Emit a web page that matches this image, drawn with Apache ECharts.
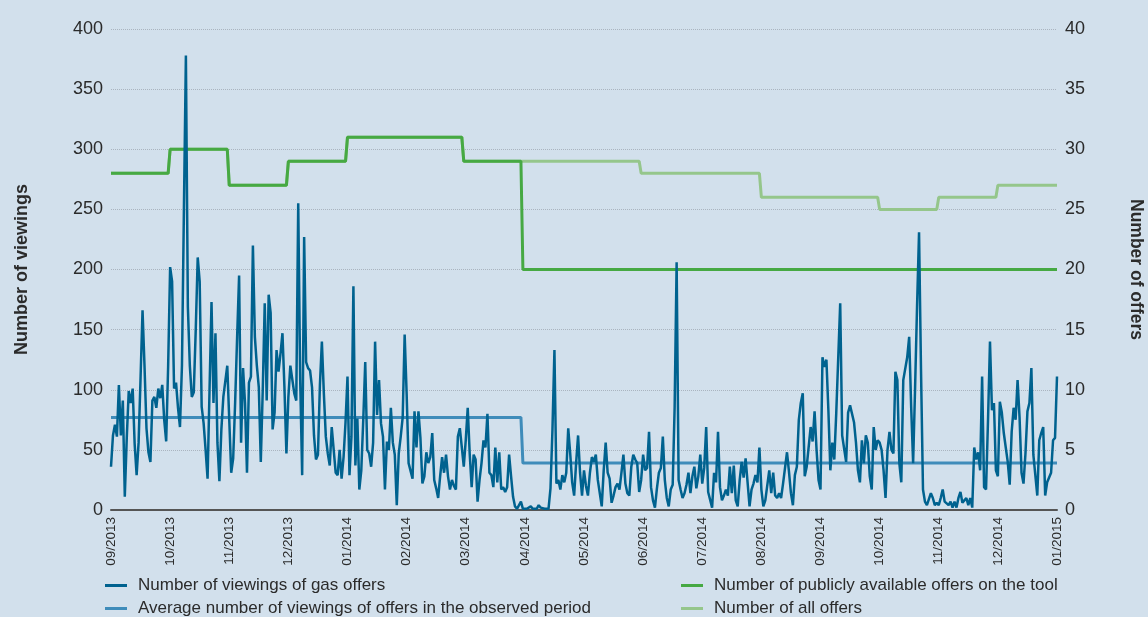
<!DOCTYPE html>
<html>
<head>
<meta charset="utf-8">
<title>Viewings of gas offers</title>
<script src="https://cdn.jsdelivr.net/npm/echarts@6/dist/echarts.min.js"></script>
<style>
  html, body { margin: 0; padding: 0; background: #d2e0ec; }
  #main { width: 1148px; height: 617px; }
</style>
</head>
<body>
<div id="main"></div>
<script>
// month tick labels, one every 30 days on the category axis
var monthLabels = ["09/2013", "10/2013", "11/2013", "12/2013", "01/2014", "02/2014", "03/2014", "04/2014",
  "05/2014", "06/2014", "07/2014", "08/2014", "09/2014", "10/2014", "11/2014", "12/2014", "01/2015"];
var daysPerLabel = 30;

// daily viewings of gas offers
var viewings = [
  36, 62, 71, 61, 104, 62, 91, 11, 60, 99,
  89, 101, 55, 29, 56, 110, 166, 120, 68, 48,
  40, 91, 94, 85, 101, 93, 104, 75, 57, 120,
  202, 190, 101, 106, 85, 69, 120, 250, 378, 169,
  120, 94, 98, 150, 210, 190, 86, 72, 50, 26,
  100, 173, 89, 147, 56, 24, 67, 94, 94, 120,
  75, 31, 43, 90, 144, 195, 56, 118, 89, 31,
  106, 111, 220, 144, 120, 102, 40, 100, 172, 91,
  179, 164, 67, 81, 133, 115, 130, 147, 102, 47,
  94, 120, 119, 97, 91, 255, 108, 29, 227, 123,
  118, 116, 102, 62, 42, 46, 104, 140, 97, 61,
  47, 37, 69, 68, 31, 29, 50, 26, 44, 73,
  111, 29, 61, 186, 37, 76, 17, 33, 75, 123,
  50, 47, 36, 56, 140, 79, 108, 72, 61, 17,
  57, 50, 85, 56, 46, 4, 47, 61, 77, 146,
  97, 39, 40, 26, 82, 52, 82, 60, 22, 28,
  48, 39, 44, 64, 25, 18, 10, 28, 44, 31,
  46, 28, 17, 25, 20, 17, 61, 68, 52, 36,
  58, 85, 47, 19, 46, 42, 7, 25, 39, 58,
  52, 80, 31, 29, 19, 52, 23, 48, 17, 19,
  15, 19, 46, 28, 11, 3, 1, 1, 7, 1,
  1, 1, 2, 3, 1, 1, 1, 4, 2, 1,
  1, 1, 1, 18, 67, 133, 22, 25, 17, 29,
  23, 31, 68, 47, 23, 12, 39, 62, 31, 12,
  33, 20, 12, 31, 44, 40, 46, 25, 14, 3,
  33, 56, 31, 26, 6, 12, 19, 22, 17, 31,
  46, 22, 14, 12, 36, 46, 42, 39, 15, 25,
  46, 33, 35, 65, 19, 8, 2, 18, 31, 35,
  61, 25, 10, 3, 17, 21, 86, 206, 25, 17,
  10, 14, 21, 31, 14, 28, 36, 18, 28, 46,
  22, 35, 69, 15, 14, 2, 31, 23, 65, 19,
  8, 12, 17, 12, 36, 14, 37, 8, 3, 25,
  40, 27, 43, 23, 3, 17, 22, 29, 23, 52,
  17, 3, 8, 8, 33, 14, 31, 12, 10, 14,
  10, 22, 23, 48, 32, 14, 4, 29, 36, 75,
  89, 97, 28, 36, 36, 69, 57, 82, 50, 25,
  17, 127, 119, 125, 83, 33, 56, 42, 81, 81,
  172, 62, 61, 40, 81, 87, 86, 73, 56, 33,
  23, 58, 39, 62, 56, 28, 17, 69, 50, 58,
  56, 50, 33, 10, 50, 65, 50, 47, 115, 108,
  39, 23, 108, 108, 127, 144, 86, 39, 102, 170,
  231, 116, 17, 7, 4, 9, 14, 10, 4, 6,
  4, 10, 17, 7, 8, 4, 7, 2, 7, 2,
  10, 15, 6, 8, 10, 4, 10, 2, 52, 42,
  48, 33, 111, 19, 17, 75, 140, 83, 89, 33,
  28, 90, 81, 64, 52, 40, 21, 65, 85, 75,
  108, 77, 31, 22, 47, 82, 89, 118, 46, 46,
  12, 58, 64, 69, 12, 23, 22, 31, 58, 60,
  111
];

// step series as [day index, value] at each change
var averageViewings = [[0, 77], [208, 77], [209, 39], [480, 39]];
var publicOffers = [[0, 28], [29, 28], [30, 30], [59, 30], [60, 27], [89, 27], [90, 29], [119, 29],
  [120, 31], [178, 31], [179, 29], [208, 29], [209, 20], [480, 20]];
var allOffers = [[0, 28], [29, 28], [30, 30], [59, 30], [60, 27], [89, 27], [90, 29], [119, 29],
  [120, 31], [178, 31], [179, 29], [268, 29], [269, 28], [329, 28], [330, 26], [389, 26],
  [390, 25], [419, 25], [420, 26], [449, 26], [450, 27], [480, 27]];

var days = viewings.map(function (v, i) {
  return i % daysPerLabel === 0 ? monthLabels[i / daysPerLabel] : "";
});

var font = "'Liberation Sans', Arial, sans-serif";
var textColor = "#2b2b2b";

// one legend box per entry, laid out in two columns like the original
function legendItem(name, left, top) {
  return {
    data: [name], left: left, top: top,
    icon: "rect", itemWidth: 22, itemHeight: 3,
    textStyle: { fontFamily: font, fontSize: 17, color: textColor, padding: [0, 0, 0, 6] }
  };
}

var myChart = echarts.init(document.getElementById("main"));
myChart.setOption({
  backgroundColor: "#d2e0ec",
  animation: false,
  textStyle: { fontFamily: font },
  grid: { left: 111, right: 91, top: 29, bottom: 107, outerBoundsMode: "none" },
  legend: [
    legendItem("Number of viewings of gas offers", 100, 572),
    legendItem("Average number of viewings of offers in the observed period", 100, 595),
    legendItem("Number of publicly available offers on the tool", 676, 572),
    legendItem("Number of all offers", 676, 595)
  ],
  xAxis: {
    type: "category",
    boundaryGap: false,
    data: days,
    axisLine: { lineStyle: { color: "#555", width: 2 } },
    axisTick: { show: false },
    axisLabel: {
      interval: function (i) { return i % daysPerLabel === 0; },
      rotate: 90, margin: 7,
      fontFamily: font, fontSize: 13.5, color: textColor
    }
  },
  yAxis: [
    {
      type: "value", min: 0, max: 400, interval: 50,
      name: "Number of viewings", nameLocation: "middle", nameGap: 80, nameRotate: 90,
      nameTextStyle: { fontFamily: font, fontSize: 18, fontWeight: "bold", color: textColor },
      axisLine: { show: false }, axisTick: { show: false },
      axisLabel: { fontFamily: font, fontSize: 18, color: textColor, margin: 8 },
      splitLine: { lineStyle: { color: "#aab4bf", type: "dotted" } }
    },
    {
      type: "value", min: 0, max: 40, interval: 5,
      name: "Number of offers", nameLocation: "middle", nameGap: 70, nameRotate: -90,
      nameTextStyle: { fontFamily: font, fontSize: 17.5, fontWeight: "bold", color: textColor },
      axisLine: { show: false }, axisTick: { show: false },
      axisLabel: { fontFamily: font, fontSize: 18, color: textColor, margin: 8 },
      splitLine: { show: false }
    }
  ],
  series: [
    {
      name: "Number of all offers",
      type: "line", yAxisIndex: 1, symbol: "none", z: 2,
      itemStyle: { color: "#95c68b" },
      lineStyle: { color: "#95c68b", width: 3 },
      data: allOffers
    },
    {
      name: "Number of publicly available offers on the tool",
      type: "line", yAxisIndex: 1, symbol: "none", z: 3,
      itemStyle: { color: "#46a943" },
      lineStyle: { color: "#46a943", width: 3 },
      data: publicOffers
    },
    {
      name: "Average number of viewings of offers in the observed period",
      type: "line", symbol: "none", z: 4,
      itemStyle: { color: "#3f8cba" },
      lineStyle: { color: "#3f8cba", width: 3 },
      data: averageViewings
    },
    {
      name: "Number of viewings of gas offers",
      type: "line", symbol: "none", z: 5,
      itemStyle: { color: "#00628f" },
      lineStyle: { color: "#00628f", width: 2.5 },
      data: viewings
    }
  ]
});
</script>
</body>
</html>
